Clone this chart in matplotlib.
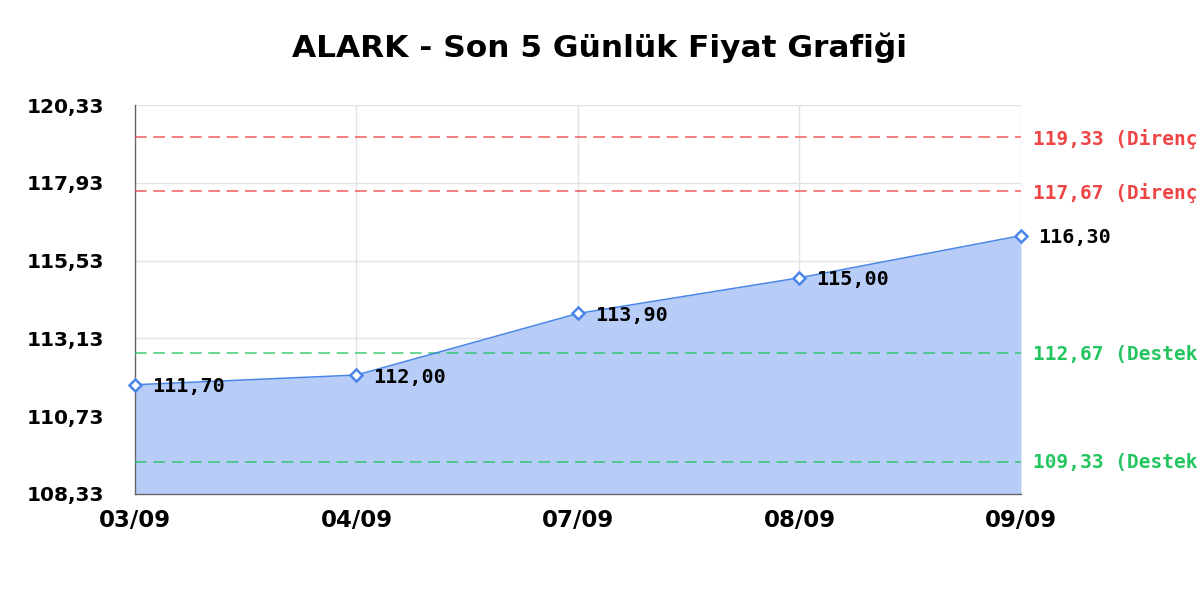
import matplotlib
matplotlib.use("Agg")
import matplotlib.pyplot as plt

# data
dates = ["03/09", "04/09", "07/09", "08/09", "09/09"]
prices = [111.70, 112.00, 113.90, 115.00, 116.30]
resistance = [119.33, 117.67]
support = [112.67, 109.33]
y_ticks = [108.33, 110.73, 113.13, 115.53, 117.93, 120.33]

BLUE = "#4a86e8"
FILL = "#b7cdf8"
RED = "#ef4444"
GREEN = "#22c55e"


def tr(v):
    # turkish decimal comma
    return f"{v:.2f}".replace(".", ",")


fig = plt.figure(figsize=(12, 6), dpi=100)
ax = fig.add_axes([0.1125, 0.1767, 0.7383, 0.6483])

x = list(range(len(dates)))
ax.fill_between(x, prices, y_ticks[0], color=FILL, lw=0, zorder=1)
ax.plot(x, prices, color=BLUE, lw=1.1, marker="D", ms=6,
        mfc="white", mec=BLUE, mew=1.8, zorder=4, clip_on=False)

for xi, p in zip(x, prices):
    ax.annotate(tr(p), (xi, p), xytext=(12, -1.5), textcoords="offset points",
                ha="left", va="center", fontsize=14.5, fontweight="bold",
                family="DejaVu Sans Mono", color="black", zorder=5,
                annotation_clip=False)

# support / resistance lines, labels run off the right edge like the original
for level, col, name in [(r, RED, "Direnç") for r in resistance] + \
                        [(s, GREEN, "Destek") for s in support]:
    ax.axhline(level, color=col, lw=1.2, ls=(0, (7, 4)), alpha=0.8, zorder=3)
    ax.annotate(f"{tr(level)} ({name})", (1.0, level),
                xycoords=("axes fraction", "data"),
                xytext=(9, -1), textcoords="offset points",
                ha="left", va="center", fontsize=14, fontweight="bold",
                family="DejaVu Sans Mono", color=col, annotation_clip=False)

ax.set_xlim(0, len(dates) - 1)
ax.set_ylim(y_ticks[0], y_ticks[-1])
ax.set_xticks(x)
ax.set_xticklabels(dates, fontsize=16.5, fontweight="bold")
ax.set_yticks(y_ticks)
ax.set_yticklabels([tr(v) for v in y_ticks], fontsize=14.5, fontweight="bold")
ax.tick_params(length=0)
ax.tick_params(axis="y", pad=22.5)
ax.tick_params(axis="x", pad=11)

ax.grid(True, color="#e2e2e2", lw=1, zorder=0)
ax.set_axisbelow(True)
for side in ["top", "right"]:
    ax.spines[side].set_visible(False)
for side in ["left", "bottom"]:
    ax.spines[side].set_color("#666666")
    ax.spines[side].set_linewidth(1)

fig.text(0.5, 1 - 48 / 600, "ALARK - Son 5 Günlük Fiyat Grafiği",
         ha="center", va="center", fontsize=22.5, fontweight="bold")

fig.savefig("out.png", dpi=100)
